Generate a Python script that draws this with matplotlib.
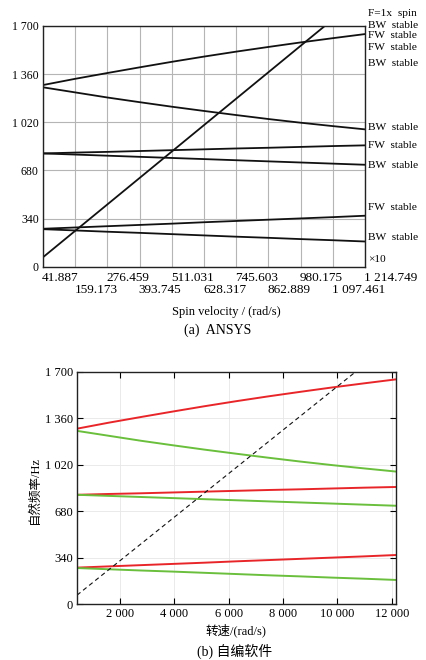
import matplotlib
matplotlib.use("Agg")
import matplotlib.pyplot as plt
import numpy as np
from matplotlib.ticker import FuncFormatter

plt.rcParams['font.family'] = ['Liberation Serif', 'Noto Sans CJK SC', 'DejaVu Sans']

# --- data -------------------------------------------------------------
# ANSYS spin-speed ticks (x10 rad/s)
ansys_ticks = ['41.887', '159.173', '276.459', '393.745', '511.031', '628.317',
               '745.603', '862.889', '980.175', '1 097.461', '1 214.749']
# speeds (rad/s) at which the curves are sampled
speed = [418.87, 1591.73, 2764.59, 3937.45, 5110.31, 6283.17,
         7456.03, 8628.89, 9801.75, 10974.61, 12147.49]

fw1 = [1283, 1327, 1368, 1408, 1447, 1484, 1519, 1552, 1584, 1614, 1643]
bw1 = [1267, 1231, 1195, 1162, 1130, 1100, 1071, 1043, 1017, 993, 970]
fw2 = [800, 806, 811, 817, 823, 829, 835, 840, 846, 852, 857]
bw2 = [800, 792, 784, 776, 768, 760, 752, 744, 736, 728, 720]
fw3 = [268, 277, 286, 295, 304, 314, 323, 332, 341, 350, 360]
bw3 = [265, 256, 247, 239, 230, 221, 212, 204, 195, 187, 178]

spin_x = [418.87, 12147.49]
spin_hz = [66.7, 1933.3]

y_ticks = [0, 340, 680, 1020, 1360, 1700]
b_xticks = [2000, 4000, 6000, 8000, 10000, 12000]

side_labels = ['F=1x  spin', 'BW  stable', 'FW  stable', 'FW  stable', 'BW  stable',
               'BW  stable', 'FW  stable', 'BW  stable', 'FW  stable', 'BW  stable', '×10']
side_y_px = [14, 25, 36, 47, 63, 127, 146, 165, 208, 237, 260]


def thou(v, pos=None):
    s = f"{v:,.0f}"
    return s.replace(',', ' ')


W, H = 427, 660
fig = plt.figure(figsize=(W / 100, H / 100), dpi=100)

# --- (a) ANSYS --------------------------------------------------------
ax1 = fig.add_axes([43 / W, 1 - 266.7 / H, 322 / W, 240.7 / H])
sp10 = np.array(speed) / 10
for v in [fw1, bw1, fw2, bw2, fw3, bw3]:
    ax1.plot(sp10, v, color='#111111', lw=1.3)
ax1.plot(np.array(spin_x) / 10, spin_hz, color='#111111', lw=1.3)
tick_vals = [float(t.replace(' ', '')) for t in ansys_ticks]
ax1.set_xlim(tick_vals[0], tick_vals[-1])
ax1.set_ylim(0, 1700)
ax1.set_xticks(tick_vals)
ax1.set_xticklabels([])
ax1.set_yticks(y_ticks)
ax1.yaxis.set_major_formatter(FuncFormatter(thou))
ax1.tick_params(length=0, labelsize=8.5, pad=3)
ax1.grid(True, color='#b5b5b5', lw=0.8)
for s in ax1.spines.values():
    s.set_linewidth(1.0)
    s.set_color('#222222')
trans = ax1.get_xaxis_transform()
for i, (tv, tl) in enumerate(zip(tick_vals, ansys_ticks)):
    dy = -0.022 if i % 2 == 0 else -0.072
    ax1.text(tv - 3, dy, tl, transform=trans, ha='left', va='top', fontsize=9.5)
for lab, ypx in zip(side_labels, side_y_px):
    fig.text(368 / W, 1 - ypx / H, lab, ha='left', va='center', fontsize=8.2)
fig.text(226 / W, 1 - 312 / H, 'Spin velocity / (rad/s)', ha='center', va='center', fontsize=9)
fig.text(218 / W, 1 - 330 / H, '(a)  ANSYS', ha='center', va='center', fontsize=10)

# --- (b) self-developed ----------------------------------------------
ax2 = fig.add_axes([77 / W, 1 - 604.3 / H, 318.7 / W, 232.7 / H])
for v in [fw1, fw2, fw3]:
    ax2.plot(speed, v, color='#e8262a', lw=1.4)
for v in [bw1, bw2, bw3]:
    ax2.plot(speed, v, color='#6abf3c', lw=1.4)
ax2.plot(spin_x, spin_hz, color='#111111', lw=0.8, ls=(0, (4, 3)))
ax2.set_xlim(speed[0], speed[-1])
ax2.set_ylim(0, 1700)
ax2.set_xticks(b_xticks)
ax2.set_yticks(y_ticks)
ax2.xaxis.set_major_formatter(FuncFormatter(thou))
ax2.yaxis.set_major_formatter(FuncFormatter(thou))
ax2.tick_params(direction='in', length=4, width=0.8, top=True, right=True,
                labelsize=9, pad=3)
ax2.grid(True, color='#e6e6e6', lw=0.6)
for s in ax2.spines.values():
    s.set_linewidth(1.0)
    s.set_color('#222222')
fig.text(236 / W, 1 - 630 / H, '转速/(rad/s)', ha='center', va='center', fontsize=9)
fig.text(35 / W, 1 - 490 / H, '自然频率/Hz', ha='center', va='center', rotation=90, fontsize=9)
fig.text(235 / W, 1 - 651 / H, '(b) 自编软件', ha='center', va='center', fontsize=10)

fig.savefig('out.png', dpi=100)
